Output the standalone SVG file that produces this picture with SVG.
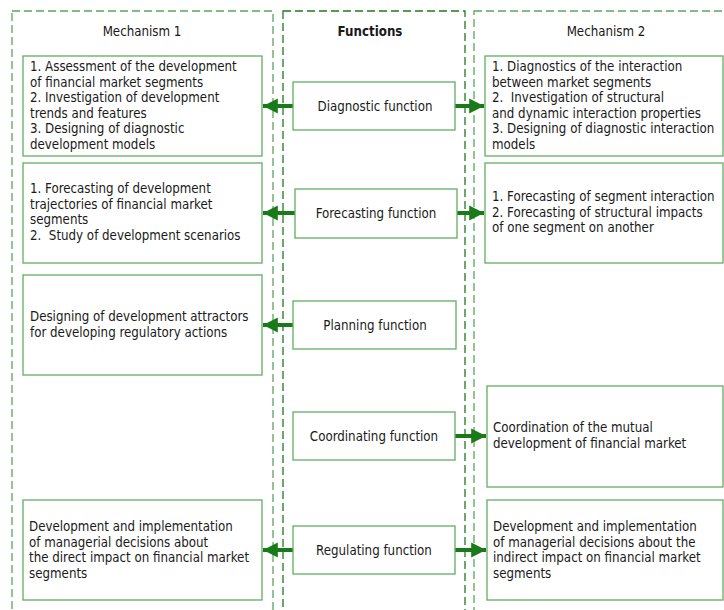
<svg xmlns="http://www.w3.org/2000/svg" width="724" height="610" viewBox="0 0 724 610">
  <style>
    .col { fill: none; stroke-width: 1.3; stroke-dasharray: 8 4; }
    .col-m { stroke: #5aa65a; }
    .col-f { stroke: #1f7a1f; }
    .box { fill: #ffffff; stroke: #5fae5f; stroke-width: 1.3; }
    text { font-family: "DejaVu Sans Condensed", "DejaVu Sans", sans-serif; font-size: 13.2px; fill: #1a1a1a; }
    .hd { text-anchor: middle; }
    .b { font-weight: bold; }
    .fn { text-anchor: middle; dominant-baseline: central; }
    .link { stroke: #1a7a1a; stroke-width: 4; fill: none; }
  </style>
  <defs>
    <marker id="head" viewBox="0 0 10 10" refX="10" refY="5" markerWidth="3.7" markerHeight="3.9" markerUnits="strokeWidth" orient="auto">
      <path d="M0,0 L10,5 L0,10 Z" fill="#1a7a1a"/>
    </marker>
  </defs>
  <rect width="724" height="610" fill="#ffffff"/>

  <!-- column frames -->
  <g id="columns">
    <rect class="col col-m" x="12" y="11" width="261" height="620"/>
    <rect class="col col-f" x="283" y="11" width="182" height="620"/>
    <rect class="col col-m" x="474" y="11" width="270" height="620"/>
    <text class="hd" x="142" y="36">Mechanism 1</text>
    <text class="hd b" x="370" y="36">Functions</text>
    <text class="hd" x="606" y="36">Mechanism 2</text>
  </g>

  <!-- connectors -->
  <g id="connectors">
    <line class="link" x1="293" y1="106" x2="263" y2="106" marker-end="url(#head)"/>
    <line class="link" x1="455" y1="106" x2="484" y2="106" marker-end="url(#head)"/>
    <line class="link" x1="295" y1="213" x2="263" y2="213" marker-end="url(#head)"/>
    <line class="link" x1="457" y1="213" x2="484" y2="213" marker-end="url(#head)"/>
    <line class="link" x1="293" y1="325" x2="263" y2="325" marker-end="url(#head)"/>
    <line class="link" x1="455" y1="436" x2="486" y2="436" marker-end="url(#head)"/>
    <line class="link" x1="293" y1="550" x2="263" y2="550" marker-end="url(#head)"/>
    <line class="link" x1="455" y1="550" x2="486" y2="550" marker-end="url(#head)"/>
  </g>

  <!-- Mechanism 1 -->
  <g id="m1-diagnostic">
    <rect class="box" x="23" y="56" width="239" height="100"/>
    <text x="30" y="71">
      <tspan x="30">1. Assessment of the development</tspan>
      <tspan x="30" dy="15.6">of financial market segments</tspan>
      <tspan x="30" dy="15.6">2. Investigation of development</tspan>
      <tspan x="30" dy="15.6">trends and features</tspan>
      <tspan x="30" dy="15.6">3. Designing of diagnostic</tspan>
      <tspan x="30" dy="15.6">development models</tspan>
    </text>
  </g>
  <g id="m1-forecasting">
    <rect class="box" x="23" y="163" width="239" height="100"/>
    <text x="30" y="193">
      <tspan x="30">1. Forecasting of development</tspan>
      <tspan x="30" dy="15.6">trajectories of financial market</tspan>
      <tspan x="30" dy="15.6">segments</tspan>
      <tspan x="30" dy="15.6">2.&#160; Study of development scenarios</tspan>
    </text>
  </g>
  <g id="m1-planning">
    <rect class="box" x="23" y="275" width="239" height="100"/>
    <text x="30" y="321">
      <tspan x="30">Designing of development attractors</tspan>
      <tspan x="30" dy="15.6">for developing regulatory actions</tspan>
    </text>
  </g>
  <g id="m1-regulating">
    <rect class="box" x="23" y="500" width="239" height="100"/>
    <text x="29" y="531">
      <tspan x="29">Development and implementation</tspan>
      <tspan x="29" dy="15.6">of managerial decisions about</tspan>
      <tspan x="29" dy="15.6">the direct impact on financial market</tspan>
      <tspan x="29" dy="15.6">segments</tspan>
    </text>
  </g>

  <!-- Functions -->
  <g id="f-diagnostic">
    <rect class="box" x="293" y="82" width="162" height="48"/>
    <text class="fn" x="375" y="106">Diagnostic function</text>
  </g>
  <g id="f-forecasting">
    <rect class="box" x="295" y="189" width="162" height="49"/>
    <text class="fn" x="376" y="213">Forecasting function</text>
  </g>
  <g id="f-planning">
    <rect class="box" x="293" y="301" width="163" height="48"/>
    <text class="fn" x="375" y="325">Planning function</text>
  </g>
  <g id="f-coordinating">
    <rect class="box" x="293" y="412" width="162" height="48"/>
    <text class="fn" x="374" y="436">Coordinating function</text>
  </g>
  <g id="f-regulating">
    <rect class="box" x="293" y="526" width="162" height="48"/>
    <text class="fn" x="374" y="550">Regulating function</text>
  </g>

  <!-- Mechanism 2 -->
  <g id="m2-diagnostic">
    <rect class="box" x="485" y="56" width="238" height="100"/>
    <text x="492" y="71">
      <tspan x="492">1. Diagnostics of the interaction</tspan>
      <tspan x="492" dy="15.6">between market segments</tspan>
      <tspan x="492" dy="15.6">2.&#160; Investigation of structural</tspan>
      <tspan x="492" dy="15.6">and dynamic interaction properties</tspan>
      <tspan x="492" dy="15.6">3. Designing of diagnostic interaction</tspan>
      <tspan x="492" dy="15.6">models</tspan>
    </text>
  </g>
  <g id="m2-forecasting">
    <rect class="box" x="485" y="163" width="238" height="100"/>
    <text x="492" y="201">
      <tspan x="492">1. Forecasting of segment interaction</tspan>
      <tspan x="492" dy="15.6">2. Forecasting of structural impacts</tspan>
      <tspan x="492" dy="15.6">of one segment on another</tspan>
    </text>
  </g>
  <g id="m2-coordinating">
    <rect class="box" x="487" y="386" width="236" height="101"/>
    <text x="493" y="432">
      <tspan x="493">Coordination of the mutual</tspan>
      <tspan x="493" dy="15.6">development of financial market</tspan>
    </text>
  </g>
  <g id="m2-regulating">
    <rect class="box" x="487" y="500" width="236" height="100"/>
    <text x="493" y="531">
      <tspan x="493">Development and implementation</tspan>
      <tspan x="493" dy="15.6">of managerial decisions about the</tspan>
      <tspan x="493" dy="15.6">indirect impact on financial market</tspan>
      <tspan x="493" dy="15.6">segments</tspan>
    </text>
  </g>
</svg>
